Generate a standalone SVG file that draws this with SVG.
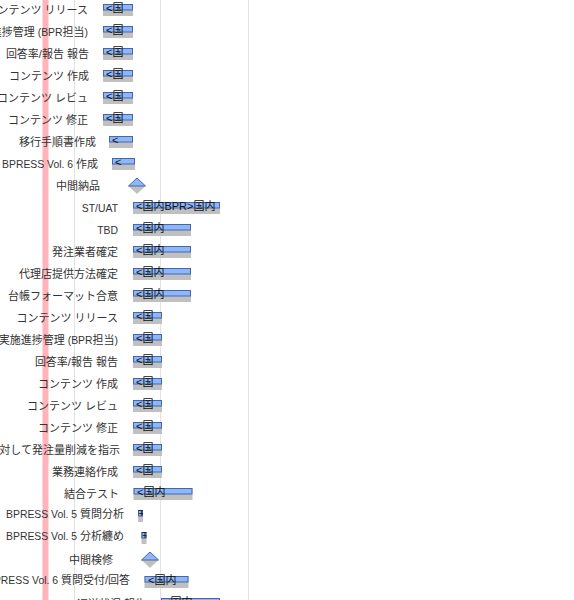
<svg xmlns="http://www.w3.org/2000/svg" width="574" height="600" viewBox="0 0 574 600">
<style>
.lbl{font-family:"Liberation Sans","Noto Sans CJK JP",sans-serif;font-size:11px;fill:#333;text-anchor:end}
.lt{font-size:10.4px}
.btx{font-family:"Liberation Sans","Noto Sans CJK JP",sans-serif;font-size:11px;fill:#111}
.sh{fill:#c0c0c0}
.bar{fill:#8fb6f5;stroke:#4166b2;stroke-width:1}
.grid{stroke:#e2e2e2;stroke-width:1}
</style>
<defs>
<clipPath id="c24"><rect x="138" y="510" width="5" height="6"/></clipPath>
<clipPath id="c25"><rect x="141.5" y="532" width="5" height="6"/></clipPath>
</defs>
<rect width="574" height="600" fill="#ffffff"/>
<g id="grid">
<line class="grid" x1="74.5" y1="0" x2="74.5" y2="600"/>
<line class="grid" x1="160.5" y1="0" x2="160.5" y2="600"/>
<line class="grid" x1="248.5" y1="0" x2="248.5" y2="600"/>
</g>
<rect id="today" x="42.5" y="0" width="6" height="600" fill="#ffb3ba"/>
<g id="connectors"></g>

<g id="t1"><text class="lbl" x="88" y="14">コンテンツ リリース</text><rect class="sh" x="103" y="4" width="30" height="12"/><rect class="bar" x="103.5" y="4.5" width="29" height="5.5"/><text class="btx" x="106" y="11.5">&lt;国</text></g>
<g id="t2"><text class="lbl" x="88" y="36">実施進捗管理<tspan class="lt"> (BPR</tspan>担当<tspan class="lt">)</tspan></text><rect class="sh" x="103" y="26" width="30" height="12"/><rect class="bar" x="103.5" y="26.5" width="29" height="5.5"/><text class="btx" x="106" y="33.5">&lt;国</text></g>
<g id="t3"><text class="lbl" x="89" y="58">回答率/報告 報告</text><rect class="sh" x="103" y="48" width="30" height="12"/><rect class="bar" x="103.5" y="48.5" width="29" height="5.5"/><text class="btx" x="106" y="55.5">&lt;国</text></g>
<g id="t4"><text class="lbl" x="89" y="80">コンテンツ 作成</text><rect class="sh" x="103" y="70" width="30" height="12"/><rect class="bar" x="103.5" y="70.5" width="29" height="5.5"/><text class="btx" x="106" y="77.5">&lt;国</text></g>
<g id="t5"><text class="lbl" x="88" y="102">コンテンツ レビュ</text><rect class="sh" x="103" y="92" width="30" height="12"/><rect class="bar" x="103.5" y="92.5" width="29" height="5.5"/><text class="btx" x="106" y="99.5">&lt;国</text></g>
<g id="t6"><text class="lbl" x="88" y="124">コンテンツ 修正</text><rect class="sh" x="103" y="114" width="30" height="12"/><rect class="bar" x="103.5" y="114.5" width="29" height="5.5"/><text class="btx" x="106" y="121.5">&lt;国</text></g>
<g id="t7"><text class="lbl" x="96" y="146">移行手順書作成</text><rect class="sh" x="109" y="136" width="24" height="12"/><rect class="bar" x="109.5" y="136.5" width="23" height="5.5"/><text class="btx" x="112" y="143.5">&lt;</text></g>
<g id="t8"><text class="lbl" x="98" y="168"><tspan class="lt">BPRESS Vol. 6 </tspan>作成</text><rect class="sh" x="112" y="158" width="23" height="12"/><rect class="bar" x="112.5" y="158.5" width="22" height="5.5"/><text class="btx" x="115" y="165.5">&lt;</text></g>
<g id="m1"><text class="lbl" x="100" y="190">中間納品</text><path class="sh" d="M128.5 186 L145.5 186 L137 194 Z"/><path class="bar" d="M128.5 186 L137 178 L145.5 186 Z"/></g>
<g id="t10"><text class="lbl" x="118" y="212"><tspan class="lt">ST/UAT</tspan></text><rect class="sh" x="133" y="202" width="87" height="12"/><rect class="bar" x="133.5" y="202.5" width="86" height="5.5"/><text class="btx" x="136" y="209.5">&lt;国内BPR&gt;国内</text></g>
<g id="t11"><text class="lbl" x="118" y="234"><tspan class="lt">TBD</tspan></text><rect class="sh" x="133" y="224" width="58" height="12"/><rect class="bar" x="133.5" y="224.5" width="57" height="5.5"/><text class="btx" x="136" y="231.5">&lt;国内</text></g>
<g id="t12"><text class="lbl" x="118" y="256">発注業者確定</text><rect class="sh" x="133" y="246" width="58" height="12"/><rect class="bar" x="133.5" y="246.5" width="57" height="5.5"/><text class="btx" x="136" y="253.5">&lt;国内</text></g>
<g id="t13"><text class="lbl" x="118" y="278">代理店提供方法確定</text><rect class="sh" x="133" y="268" width="58" height="12"/><rect class="bar" x="133.5" y="268.5" width="57" height="5.5"/><text class="btx" x="136" y="275.5">&lt;国内</text></g>
<g id="t14"><text class="lbl" x="118" y="300">台帳フォーマット合意</text><rect class="sh" x="133" y="290" width="58" height="12"/><rect class="bar" x="133.5" y="290.5" width="57" height="5.5"/><text class="btx" x="136" y="297.5">&lt;国内</text></g>
<g id="t15"><text class="lbl" x="118" y="322">コンテンツ リリース</text><rect class="sh" x="133" y="312" width="29" height="12"/><rect class="bar" x="133.5" y="312.5" width="28" height="5.5"/><text class="btx" x="136" y="319.5">&lt;国</text></g>
<g id="t16"><text class="lbl" x="118" y="344">実施進捗管理<tspan class="lt"> (BPR</tspan>担当<tspan class="lt">)</tspan></text><rect class="sh" x="133" y="334" width="29" height="12"/><rect class="bar" x="133.5" y="334.5" width="28" height="5.5"/><text class="btx" x="136" y="341.5">&lt;国</text></g>
<g id="t17"><text class="lbl" x="118" y="366">回答率/報告 報告</text><rect class="sh" x="133" y="356" width="29" height="12"/><rect class="bar" x="133.5" y="356.5" width="28" height="5.5"/><text class="btx" x="136" y="363.5">&lt;国</text></g>
<g id="t18"><text class="lbl" x="118" y="388">コンテンツ 作成</text><rect class="sh" x="133" y="378" width="29" height="12"/><rect class="bar" x="133.5" y="378.5" width="28" height="5.5"/><text class="btx" x="136" y="385.5">&lt;国</text></g>
<g id="t19"><text class="lbl" x="118" y="410">コンテンツ レビュ</text><rect class="sh" x="133" y="400" width="29" height="12"/><rect class="bar" x="133.5" y="400.5" width="28" height="5.5"/><text class="btx" x="136" y="407.5">&lt;国</text></g>
<g id="t20"><text class="lbl" x="118" y="432">コンテンツ 修正</text><rect class="sh" x="133" y="422" width="29" height="12"/><rect class="bar" x="133.5" y="422.5" width="28" height="5.5"/><text class="btx" x="136" y="429.5">&lt;国</text></g>
<g id="t21"><text class="lbl" x="120" y="454">対して発注量削減を指示</text><rect class="sh" x="133" y="444" width="29" height="12"/><rect class="bar" x="133.5" y="444.5" width="28" height="5.5"/><text class="btx" x="136" y="451.5">&lt;国</text></g>
<g id="t22"><text class="lbl" x="118" y="476">業務連絡作成</text><rect class="sh" x="133" y="466" width="29" height="12"/><rect class="bar" x="133.5" y="466.5" width="28" height="5.5"/><text class="btx" x="136" y="473.5">&lt;国</text></g>
<g id="t23"><text class="lbl" x="119" y="498">結合テスト</text><rect class="sh" x="133.5" y="488" width="59" height="12"/><rect class="bar" x="134" y="488.5" width="58" height="5.5"/><text class="btx" x="137" y="495.5">&lt;国内</text></g>
<g id="t24"><text class="lbl" x="124" y="518"><tspan class="lt">BPRESS Vol. 5 </tspan>質問分析</text><rect class="sh" x="138" y="510" width="5" height="12"/><rect class="bar" x="138.5" y="510.5" width="4" height="5.5"/><text class="btx" x="136" y="517.5" clip-path="url(#c24)">国</text></g>
<g id="t25"><text class="lbl" x="124" y="540"><tspan class="lt">BPRESS Vol. 5 </tspan>分析纏め</text><rect class="sh" x="141.5" y="532" width="5" height="12"/><rect class="bar" x="142" y="532.5" width="4" height="5.5"/><text class="btx" x="139.5" y="539.5" clip-path="url(#c25)">国</text></g>
<g id="m2"><text class="lbl" x="113" y="564">中間検修</text><path class="sh" d="M141.5 560 L158.5 560 L150 568 Z"/><path class="bar" d="M141.5 560 L150 552 L158.5 560 Z"/></g>
<g id="t27"><text class="lbl" x="130" y="584"><tspan class="lt">BPRESS Vol. 6 </tspan>質問受付/回答</text><rect class="sh" x="144.5" y="576" width="44" height="12"/><rect class="bar" x="145" y="576.5" width="43" height="5.5"/><text class="btx" x="148" y="583.5">&lt;国内</text></g>
<g id="t28"><text class="lbl" x="146" y="608">返送状況 報告</text><rect class="sh" x="161" y="598" width="59" height="12"/><rect class="bar" x="161.5" y="598.5" width="58" height="5.5"/><text class="btx" x="164" y="605.5">&lt;国内</text></g>
</svg>
